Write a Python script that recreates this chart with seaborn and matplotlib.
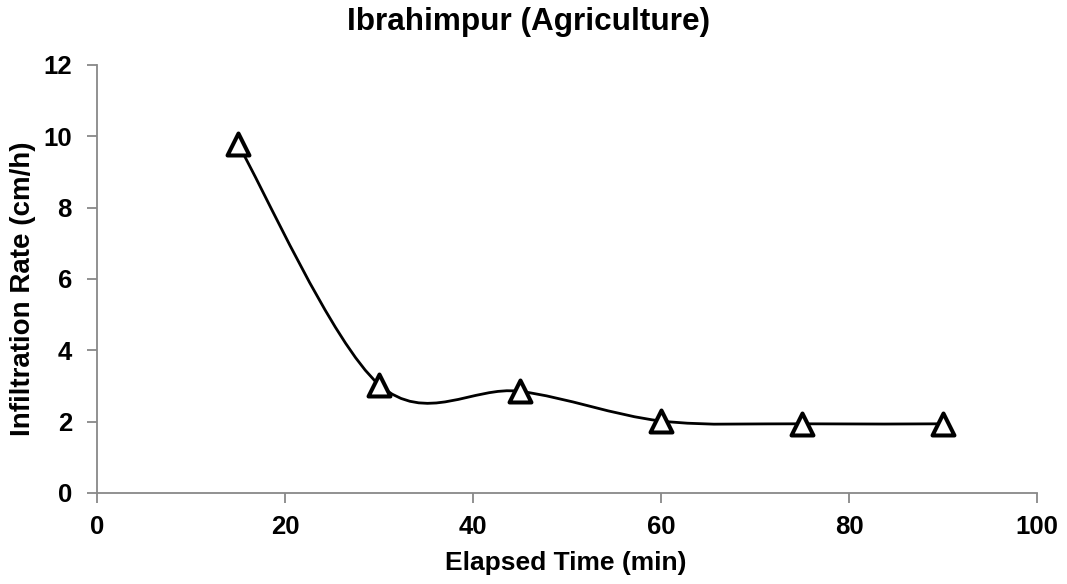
import numpy as np
import pandas as pd
import matplotlib
matplotlib.use("Agg")
import matplotlib.pyplot as plt
from matplotlib.path import Path
from matplotlib.patches import PathPatch
import seaborn as sns

elapsed_time = [15, 30, 45, 60, 75, 90]
infiltration_rate = [9.78, 3.04, 2.85, 2.02, 1.94, 1.94]
x_ticks = [0, 20, 40, 60, 80, 100]
y_ticks = [0, 2, 4, 6, 8, 10, 12]

sns.set_theme(style="white")
plt.rcParams['font.family'] = ['Liberation Sans', 'DejaVu Sans']
plt.rcParams['text.color'] = 'black'
plt.rcParams['axes.labelcolor'] = 'black'
plt.rcParams['xtick.color'] = 'black'
plt.rcParams['ytick.color'] = 'black'

df = pd.DataFrame({"t": elapsed_time, "r": infiltration_rate})

W, H = 1067, 584
fig = plt.figure(figsize=(W / 100, H / 100), dpi=100)
ax = fig.add_axes([97/W, 91/H, (1037-97)/W, (493-65)/H])

# Smoothed line (Excel-style Bezier through points)
pts = np.column_stack([df["t"].values, df["r"].values]).astype(float)
n = len(pts)
verts = [tuple(pts[0])]
codes = [Path.MOVETO]
for i in range(n - 1):
    p0 = pts[i - 1] if i > 0 else pts[i]
    p1 = pts[i]
    p2 = pts[i + 1]
    p3 = pts[i + 2] if i + 2 < n else pts[i + 1]
    c1 = p1 + (p2 - p0) / 6.0
    c2 = p2 - (p3 - p1) / 6.0
    verts += [tuple(c1), tuple(c2), tuple(p2)]
    codes += [Path.CURVE4] * 3
ax.add_patch(PathPatch(Path(verts, codes), facecolor="none", edgecolor="black", lw=2, zorder=2))

sns.scatterplot(data=df, x="t", y="r", ax=ax, marker="^", s=250,
                facecolor="white", edgecolor="black", linewidth=2.9, zorder=3, legend=False)

ax.set_xlim(0, 100)
ax.set_ylim(0, 12)
ax.set_xticks(x_ticks)
ax.set_yticks(y_ticks)
for s in ["top", "right"]:
    ax.spines[s].set_visible(False)
for s in ["left", "bottom"]:
    ax.spines[s].set_color("#888888")
    ax.spines[s].set_linewidth(1.3)
ax.tick_params(axis="both", direction="out", length=7, width=1.3, color="#888888",
               labelcolor="black", labelsize=18.5, bottom=True, left=True)
ax.tick_params(axis="x", pad=9)
ax.tick_params(axis="y", pad=11)
for lab in ax.get_xticklabels() + ax.get_yticklabels():
    lab.set_fontweight("bold")

ax.set_xlabel("")
ax.set_ylabel("")
fig.text(566/W, 1 - 570/H, "Elapsed Time (min)", fontsize=19, fontweight="bold",
         ha="center", va="baseline", color="black")
fig.text(23/W, 1 - 289/H, "Infiltration Rate (cm/h)", fontsize=20, fontweight="bold",
         ha="center", va="center", rotation=90, color="black")
fig.text(529/W, 1 - 30/H, "Ibrahimpur (Agriculture)", fontsize=22.7, fontweight="bold",
         ha="center", va="baseline", color="black")

fig.savefig("out.png", dpi=100)
